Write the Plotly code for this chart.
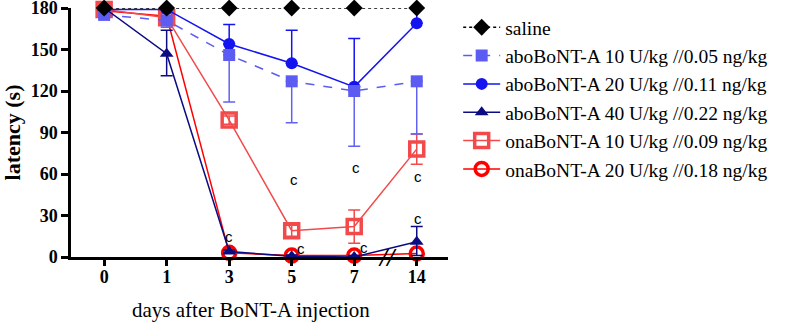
import plotly.graph_objects as go

days = ["0", "1", "3", "5", "7", "14"]
xi = [0, 1, 2, 3, 4, 5]

saline = [180, 180, 180, 180, 180, 180]

abo10 = [175, 171, 146, 127, 120, 127]
abo10_minus = [2, 5, 34, 30, 40, 38]

abo20 = [179, 179, 154, 140, 123, 169]
abo20_plus = [1, 1, 14, 24, 35, 11]

abo40 = [180, 147, 4, 0.5, 0, 11]
abo40_plus = [0, 17, 1, 1, 1, 11]
abo40_minus = [0, 16, 1, 0.5, 0, 10]

ona10 = [179, 173, 99, 19, 22, 78]
ona10_err = [1, 3, 3, 4, 12, 11]

ona20 = [178, 174, 3, 1, 1, 2.5]

names = [
    "saline",
    "aboBoNT-A 10 U/kg //0.05 ng/kg",
    "aboBoNT-A 20 U/kg //0.11 ng/kg",
    "aboBoNT-A 40 U/kg //0.22 ng/kg",
    "onaBoNT-A 10 U/kg //0.09 ng/kg",
    "onaBoNT-A 20 U/kg //0.18 ng/kg",
]

# significance letters: (x index, y value, x shift px)
sig_x = [2, 3, 3, 4, 4, 5, 5]
sig_y = [15, 56, 6.5, 65, 7, 58.5, 28]
sig_shift = [0, 2, 9, 2, 10, 1, 1]

SERIF = "Times New Roman, Liberation Serif, serif"

fig = go.Figure()

fig.add_trace(go.Scatter(
    x=xi, y=ona20, name=names[5], legendrank=6, legendgroup="g6",
    mode="lines+markers",
    line=dict(color="#ff0000", width=1.5),
    marker=dict(symbol="circle-open", size=13, color="#ff0000", line=dict(width=3.5)),
))
fig.add_trace(go.Scatter(
    x=xi, y=ona10, name=names[4], legendrank=5, legendgroup="g5",
    mode="lines+markers",
    line=dict(color="#f24a4a", width=1.5),
    marker=dict(symbol="square-open", size=14, color="#f24a4a", line=dict(width=3.5)),
    error_y=dict(type="data", array=ona10_err, arrayminus=ona10_err,
                 color="#f24a4a", thickness=1.5, width=6),
))
fig.add_trace(go.Scatter(
    x=xi, y=abo20, name=names[2], legendrank=3, legendgroup="g3",
    mode="lines+markers",
    line=dict(color="#1414f0", width=1.5),
    marker=dict(symbol="circle", size=12, color="#1414f0"),
    error_y=dict(type="data", array=abo20_plus, arrayminus=[0]*6,
                 color="#1414f0", thickness=1.5, width=6),
))
fig.add_trace(go.Scatter(
    x=xi, y=abo10, name=names[1], legendrank=2, legendgroup="g2",
    mode="lines+markers",
    line=dict(color="#5c5cf2", width=1.5, dash="dash"),
    marker=dict(symbol="square", size=12, color="#5c5cf2"),
    error_y=dict(type="data", array=[0]*6, arrayminus=abo10_minus,
                 color="#6262f2", thickness=1.5, width=6),
))
fig.add_trace(go.Scatter(
    x=xi, y=abo40, name=names[3], legendrank=4, legendgroup="g4",
    mode="lines+markers",
    line=dict(color="#0c0c82", width=1.5),
    marker=dict(symbol="triangle-up", size=12, color="#0c0c82"),
    error_y=dict(type="data", array=abo40_plus, arrayminus=abo40_minus,
                 color="#0c0c82", thickness=1.5, width=6),
))
fig.add_trace(go.Scatter(
    x=xi, y=saline, name=names[0], legendrank=1, legendgroup="g1",
    mode="lines+markers",
    line=dict(color="#000000", width=1.5, dash="dot"),
    marker=dict(symbol="diamond", size=13, color="#000000"),
))

for x, y, s in zip(sig_x, sig_y, sig_shift):
    fig.add_annotation(x=x, y=y, text="c", showarrow=False, xshift=s,
                       font=dict(family="Liberation Sans, Arial, sans-serif", size=15, color="#000"))

fig.add_annotation(x=4.54, y=0, text="<b><i>//</i></b>", showarrow=False,
                   font=dict(family=SERIF, size=26, color="#000"))

# x-axis title as annotation for exact placement
fig.add_annotation(xref="paper", yref="paper", x=0.477, y=-0.213,
                   xanchor="center", yanchor="middle", showarrow=False,
                   text="days after BoNT-A injection",
                   font=dict(family=SERIF, size=21, color="#000"))

fig.update_traces(cliponaxis=False)

fig.update_layout(
    width=789, height=322,
    margin=dict(l=71, r=341, t=8, b=65),
    plot_bgcolor="white", paper_bgcolor="white",
    font=dict(family=SERIF, color="#000"),
    showlegend=True,
    legend=dict(
        x=1.027, y=1.0, xanchor="left", yanchor="top",
        font=dict(family=SERIF, size=19.5, color="#000"),
        tracegroupgap=0, itemwidth=37,
        bgcolor="rgba(0,0,0,0)",
    ),
    xaxis=dict(
        range=[-0.53, 5.5], tickmode="array", tickvals=xi,
        ticktext=["<b>%s</b>" % d for d in days],
        showline=True, linecolor="#000", linewidth=2.5,
        ticks="outside", ticklen=6, tickwidth=2.5, tickcolor="#000",
        showgrid=False, zeroline=False, automargin=False,
        ticklabelstandoff=-4, ticklabeloverflow="allow",
        tickfont=dict(family=SERIF, size=18, color="#000"),
    ),
    yaxis=dict(
        range=[0, 180], tickmode="array", tickvals=[0, 30, 60, 90, 120, 150, 180],
        ticktext=["<b>%d</b>" % v for v in [0, 30, 60, 90, 120, 150, 180]],
        showline=True, linecolor="#000", linewidth=2.5,
        ticks="outside", ticklen=7, tickwidth=2.5, tickcolor="#000",
        showgrid=False, zeroline=False, automargin=False,
        ticklabeloverflow="allow",
        tickfont=dict(family=SERIF, size=18, color="#000"),
        title=dict(text="<b>latency (s)</b>", standoff=6,
                   font=dict(family=SERIF, size=22, color="#000")),
    ),
)

fig.write_html("out.html", config={"displayModeBar": False},
               post_script="document.body.style.margin='0';document.body.style.overflow='hidden';")
